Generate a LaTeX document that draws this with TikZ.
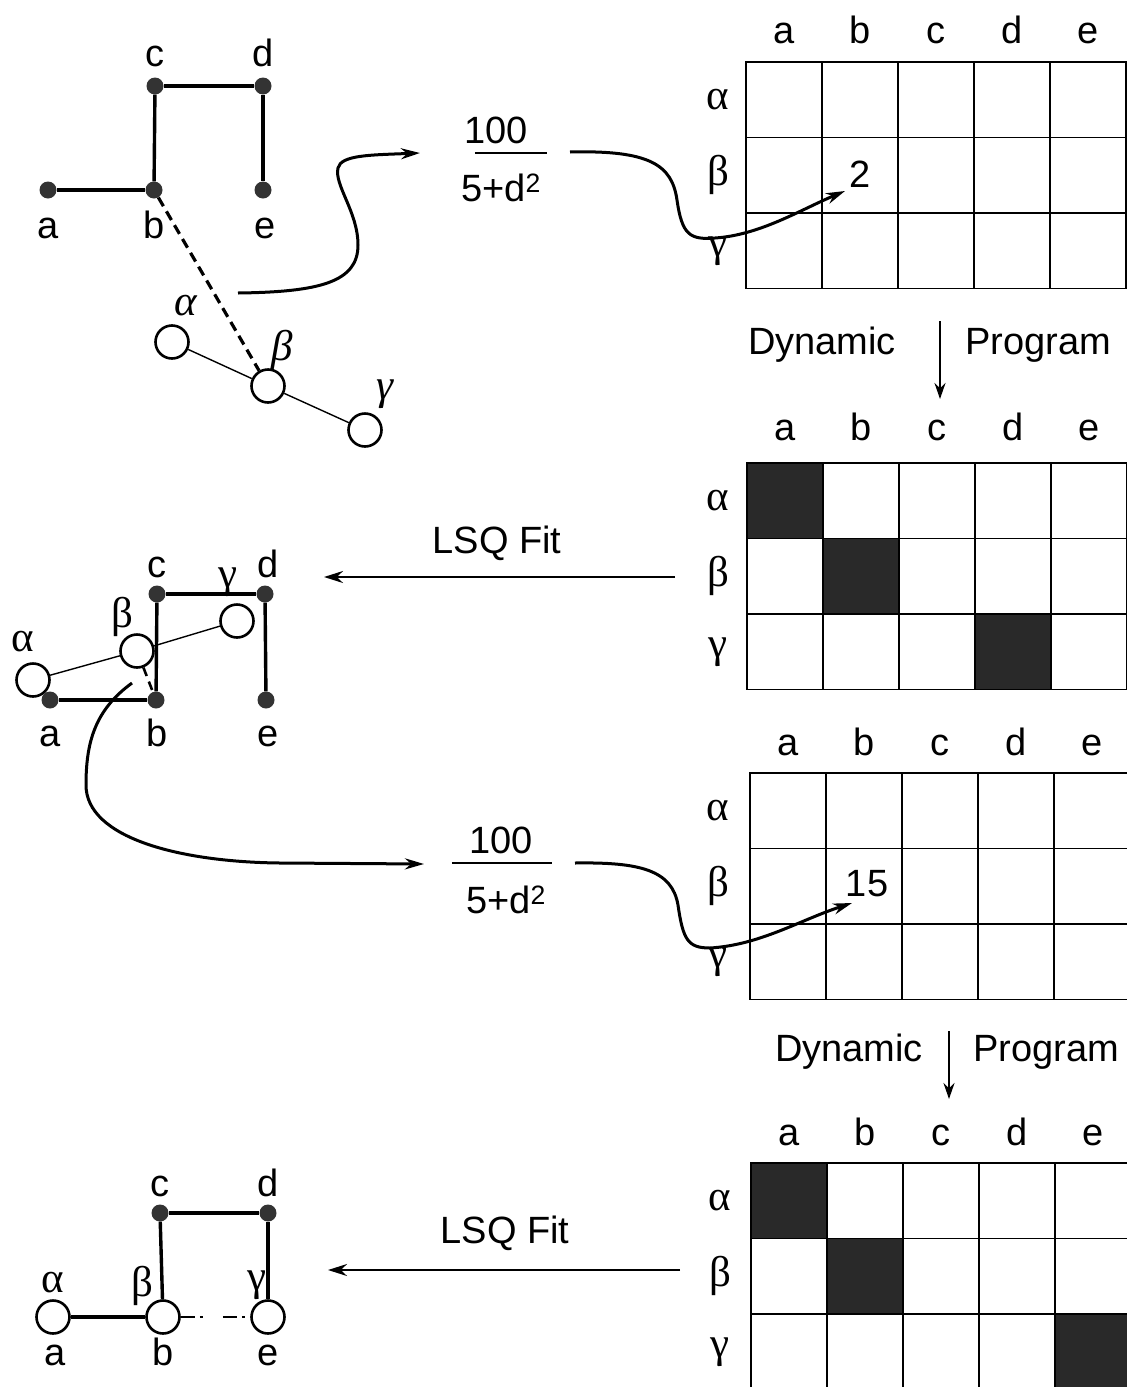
\documentclass[tikz,border=0pt]{standalone}
\usepackage{fontspec}
\setmainfont{Liberation Sans}
\newfontfamily\grkfont{Liberation Serif}
\usetikzlibrary{arrows.meta}
\begin{document}
\begin{tikzpicture}[x=1pt,y=-1pt, font=\fontsize{38}{42}\selectfont,
  txt/.style={inner sep=0pt, anchor=center},
  lbl/.style={inner sep=0pt, anchor=base},
  grk/.style={inner sep=0pt, anchor=center, font=\fontsize{43}{44}\selectfont\grkfont},
  dot/.style={circle, fill=black!80, inner sep=0pt, minimum size=17pt},
  ring/.style={circle, draw, line width=2.6pt, fill=white, inner sep=0pt, minimum size=33pt},
  edge/.style={line width=3.4pt},
  thinedge/.style={line width=1.4pt},
  dashedge/.style={line width=3.2pt, dash pattern=on 10pt off 6pt},
  curve/.style={line width=3pt, -{Stealth[length=19pt,width=11pt]}},
  fitarrow/.style={line width=1.8pt, -{Stealth[length=19pt,width=12pt]}},
  dparrow/.style={line width=2.2pt, -{Stealth[length=16pt,width=11pt]}},
  cell/.style={draw, line width=1.8pt, minimum width=76pt, minimum height=75.5pt, inner sep=0pt},
  shadecell/.style={cell, fill=black!84},
  bar/.style={inner sep=0pt, minimum height=0pt},
]
\useasboundingbox (0,0) rectangle (1127,1387);
\fill[white] (0,0) rectangle (1127,1387);

% ---------- matrices ----------
\foreach \r in {1,2,3}{\foreach \c in {1,...,5}{
  \node[cell] (A-\r-\c) at ({746+(\c-0.5)*76},{62+(\r-0.5)*75.5}) {};
  \node[cell] (B-\r-\c) at ({747+(\c-0.5)*76},{463+(\r-0.5)*75.5}) {};
  \node[cell] (C-\r-\c) at ({750+(\c-0.5)*76},{773+(\r-0.5)*75.5}) {};
  \node[cell] (D-\r-\c) at ({751+(\c-0.5)*76},{1163+(\r-0.5)*75.5}) {};
}}
\node[shadecell] (Bs1) at (B-1-1) {};
\node[shadecell] (Bs2) at (B-2-2) {};
\node[shadecell] (Bs3) at (B-3-4) {};
\node[shadecell] (Ds1) at (D-1-1) {};
\node[shadecell] (Ds2) at (D-2-2) {};
\node[shadecell] (Ds3) at (D-3-5) {};

\foreach \c/\t in {1/a,2/b,3/c,4/d,5/e}{
  \node[lbl] (Acol\c) at ({746+(\c-0.5)*76},43) {\t};
  \node[lbl] (Bcol\c) at ({747+(\c-0.5)*76},440) {\t};
  \node[lbl] (Ccol\c) at ({750+(\c-0.5)*76},755) {\t};
  \node[lbl] (Dcol\c) at ({751+(\c-0.5)*76},1145) {\t};
}
\foreach \r/\t in {1/α,2/β,3/γ}{
  \node[grk] (Arow\r) at (718,{62+(\r-0.5)*75.5}) {\t};
  \node[grk] (Brow\r) at (718,{463+(\r-0.5)*75.5}) {\t};
  \node[grk] (Crow\r) at (718,{773+(\r-0.5)*75.5}) {\t};
  \node[grk] (Drow\r) at (720,{1163+(\r-0.5)*75.5}) {\t};
}
\node[txt] (two) at (860,174) {2};
\node[txt] (fifteen) at (867,884) {15};

% ---------- top-left graph ----------
\node[ring] (tal) at (172,342) {};
\node[ring] (tbe) at (268,386) {};
\node[ring] (tga) at (365,430) {};
\draw[thinedge] (tal) -- (tbe) -- (tga);
\node[dot] (ta) at (48,190) {};
\node[dot] (tb) at (154,190) {};
\node[dot] (tc) at (155,86) {};
\node[dot] (td) at (263,86) {};
\node[dot] (te) at (263,190) {};
\draw[edge] (ta) -- (tb);
\draw[edge] (tb) -- (tc);
\draw[edge] (tc) -- (td);
\draw[edge] (td) -- (te);
\draw[dashedge] (tb) -- (tbe);
\node[lbl] (tla) at (48,238) {a};
\node[lbl] (tlb) at (154,238) {b};
\node[lbl] (tlc) at (155,66) {c};
\node[lbl] (tld) at (263,66) {d};
\node[lbl] (tle) at (265,238) {e};
\node[grk] (tlal) at (186,306) {\itshape α};
\node[grk] (tlbe) at (282,350) {\itshape β};
\node[grk] (tlga) at (385,394) {\itshape γ};

% ---------- fraction 1 ----------
\node[txt] (num1) at (496,130) {100};
\node[bar] (fr1) at (511,153) [minimum width=72pt] {};
\draw[line width=1.5pt] (fr1.west) -- (fr1.east);
\node[txt] (den1) at (501,188) {5+d\textsuperscript{2}};
\coordinate (c1s) at (238,293);
\coordinate (c1e) at (420,153);
\draw[curve] (c1s) .. controls (320,292) and (358,282) .. (358,245)
  .. controls (358,212) and (334,185) .. (338,168)
  .. controls (341,155) and (370,155) .. (c1e);
\coordinate (c2s) at (570,152);
\coordinate (c2e) at (845,191);
\draw[curve] (c2s) .. controls (650,150) and (672,165) .. (677,200)
  .. controls (682,235) and (690,240) .. (715,238)
  .. controls (760,235) and (800,210) .. (c2e);

% ---------- Dynamic Program 1 ----------
\node[txt] (dyn1) at (822,345) {Dynamic};
\node[txt] (prg1) at (1038,345) {Program};
\coordinate (dp1s) at (940,321);
\coordinate (dp1e) at (940,399);
\draw[dparrow] (dp1s) -- (dp1e);

% ---------- LSQ Fit 1 ----------
\node[txt] (lsq1) at (497,543) {LSQ Fit};
\coordinate (l1s) at (675,577);
\coordinate (l1e) at (324,577);
\draw[fitarrow] (l1s) -- (l1e);

% ---------- middle graph ----------
\node[ring] (mal) at (33,680) {};
\node[ring] (mbe) at (137,651) {};
\node[ring] (mga) at (237,621) {};
\node[dot] (ma) at (50,700) {};
\node[dot] (mb) at (156,700) {};
\node[dot] (mc) at (157,594) {};
\node[dot] (md) at (265,594) {};
\node[dot] (me) at (266,700) {};
\draw[edge] (ma) -- (mb);
\draw[edge] (mb) -- (mc);
\draw[edge] (mc) -- (md);
\draw[edge] (md) -- (me);
\draw[thinedge] (mal) -- (mbe) -- (mga);
\draw[line width=2.6pt, dash pattern=on 9pt off 6pt] (mbe) -- (mb);
\node[lbl] (mla) at (50,746) {a};
\node[lbl] (mlb) at (157,746) {b};
\node[lbl] (mlc) at (157,577) {c};
\node[lbl] (mld) at (268,577) {d};
\node[lbl] (mle) at (268,746) {e};
\node[grk] (mlal) at (23,642) {α};
\node[grk] (mlbe) at (122,617) {β};
\node[grk] (mlga) at (228,582) {γ};

% ---------- fraction 2 ----------
\node[txt] (num2) at (501,840) {100};
\node[bar] (fr2) at (502,863) [minimum width=100pt] {};
\draw[line width=1.5pt] (fr2.west) -- (fr2.east);
\node[txt] (den2) at (506,900) {5+d\textsuperscript{2}};
\coordinate (c3s) at (132,683);
\coordinate (c3e) at (424,864);
\draw[curve] (c3s) .. controls (95,710) and (86,742) .. (86,785)
  .. controls (86,838) and (180,862) .. (280,863) -- (c3e);
\coordinate (c4s) at (575,863);
\coordinate (c4e) at (852,903);
\draw[curve] (c4s) .. controls (640,862) and (672,870) .. (678,905)
  .. controls (683,940) and (688,948) .. (710,948)
  .. controls (760,945) and (800,920) .. (c4e);

% ---------- Dynamic Program 2 ----------
\node[txt] (dyn2) at (849,1052) {Dynamic};
\node[txt] (prg2) at (1046,1052) {Program};
\coordinate (dp2s) at (949,1031);
\coordinate (dp2e) at (949,1099);
\draw[dparrow] (dp2s) -- (dp2e);

% ---------- LSQ Fit 2 ----------
\node[txt] (lsq2) at (505,1233) {LSQ Fit};
\coordinate (l2s) at (680,1270);
\coordinate (l2e) at (328,1270);
\draw[fitarrow] (l2s) -- (l2e);

% ---------- bottom graph ----------
\node[ring] (bal) at (53,1317) {};
\node[ring] (bbe) at (163,1317) {};
\node[ring] (bga) at (268,1317) {};
\node[dot] (bc) at (160,1213) {};
\node[dot] (bd) at (268,1213) {};
\draw[edge] (bal) -- (bbe);
\draw[edge] (bc) -- (bbe);
\draw[edge] (bc) -- (bd);
\draw[edge] (bd) -- (bga);
\draw[line width=1.8pt, dash pattern=on 14pt off 5pt on 3pt off 20pt] (bbe) -- (bga);
\node[lbl] (blc) at (160,1196) {c};
\node[lbl] (bld) at (268,1196) {d};
\node[lbl] (bla) at (55,1365) {a};
\node[lbl] (blb) at (163,1365) {b};
\node[lbl] (ble) at (268,1365) {e};
\node[grk] (blal) at (53,1283) {α};
\node[grk] (blbe) at (142,1286) {β};
\node[grk] (blga) at (257,1285) {γ};
\end{tikzpicture}
\end{document}
